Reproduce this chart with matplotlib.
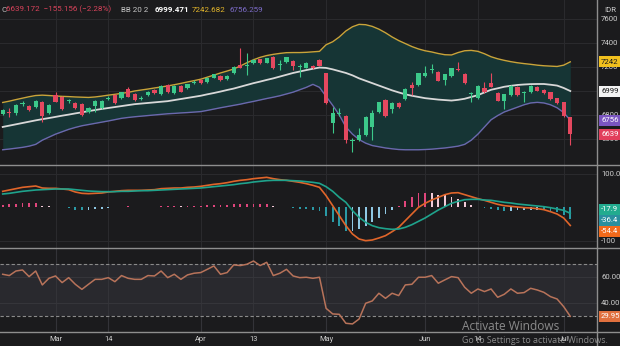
import matplotlib
matplotlib.use("Agg")
import matplotlib.pyplot as plt
import numpy as np
import pandas as pd
from matplotlib.lines import Line2D

plt.rcParams['font.family'] = ['Roboto', 'DejaVu Sans']

# ---------------- data: IDX Composite, daily, Feb-Jul 2022 ----------------
holidays = ['2022-02-28', '2022-03-03', '2022-04-15', '2022-04-29', '2022-05-02',
            '2022-05-03', '2022-05-04', '2022-05-05', '2022-05-06', '2022-05-16',
            '2022-05-26', '2022-06-01']
dates = pd.bdate_range('2022-02-16', '2022-07-04')
dates = dates[~dates.isin(pd.to_datetime(holidays))]

opens = [6808, 6822, 6819, 6893, 6875, 6864, 6911, 6814, 6967, 6953,
         6914, 6903, 6892, 6822, 6875, 6856, 6936, 6967, 6939, 7014,
         6972, 6936, 6967, 7008, 6975, 7050, 6981, 7044, 7022, 7069,
         7092, 7072, 7111, 7125, 7097, 7147, 7217, 7205, 7231, 7264,
         7236, 7286, 7214, 7239, 7250, 7200, 7194, 7208, 7258, 7147,
         6731, 6812, 6792, 6583, 6592, 6633, 6697, 6822, 6925, 6847,
         6903, 6933, 7050, 7050, 7125, 7178, 7161, 7092, 7125, 7184,
         7142, 6978, 6939, 7022, 7064, 6986, 6919, 6967, 7036, 6983,
         6989, 7036, 7008, 6989, 6939, 6906, 6781]
highs = [6850, 6856, 6890, 6917, 6882, 6922, 6918, 6888, 6989, 6958,
         6930, 6908, 6897, 6866, 6922, 6922, 6955, 6972, 6994, 7036,
         6980, 6958, 7000, 7014, 7050, 7056, 7050, 7050, 7061, 7090,
         7097, 7116, 7144, 7130, 7130, 7208, 7356, 7319, 7264, 7270,
         7278, 7292, 7258, 7286, 7256, 7222, 7242, 7214, 7264, 7153,
         6869, 6860, 6800, 6606, 6690, 6792, 6842, 6911, 6930, 6908,
         6908, 7022, 7078, 7152, 7208, 7225, 7166, 7144, 7194, 7244,
         7147, 6995, 7047, 7078, 7147, 6991, 6978, 7047, 7042, 7000,
         7047, 7042, 7014, 6995, 6945, 6911, 6786]
lows = [6800, 6781, 6800, 6875, 6835, 6858, 6744, 6808, 6905, 6845,
        6900, 6850, 6790, 6815, 6828, 6850, 6925, 6890, 6933, 6948,
        6918, 6925, 6962, 6976, 6970, 6984, 6976, 6990, 7017, 7055,
        7058, 7066, 7105, 7086, 7090, 7140, 7188, 7133, 7225, 7225,
        7230, 7183, 7172, 7233, 7175, 7114, 7188, 7183, 7205, 6890,
        6647, 6790, 6564, 6494, 6585, 6627, 6592, 6815, 6786, 6814,
        6858, 6928, 6967, 7044, 7120, 7147, 7080, 7050, 7119, 7170,
        7058, 6911, 6933, 6984, 7030, 6914, 6850, 6961, 6961, 6911,
        6984, 6997, 6975, 6928, 6890, 6781, 6550]
closes = [6842, 6816, 6883, 6899, 6842, 6917, 6792, 6883, 6911, 6850,
          6919, 6856, 6800, 6861, 6917, 6917, 6941, 6897, 6989, 6953,
          6925, 6942, 6995, 6981, 7044, 6989, 7044, 6995, 7056, 7075,
          7064, 7111, 7139, 7092, 7125, 7203, 7194, 7210, 7258, 7231,
          7272, 7189, 7220, 7280, 7208, 7206, 7236, 7190, 7211, 6897,
          6814, 6818, 6592, 6589, 6633, 6786, 6819, 6906, 6792, 6903,
          6864, 7017, 7022, 7147, 7147, 7184, 7086, 7139, 7189, 7178,
          7064, 6984, 7042, 6989, 7036, 6919, 6972, 7042, 6967, 6989,
          7042, 7003, 6981, 6933, 6897, 6794.328, 6639.172]

# Bollinger Bands (20, 2)
bb_upper = [6904, 6915, 6928, 6940, 6952, 6962, 6965, 6962, 6958, 6955,
            6953, 6950, 6948, 6946, 6950, 6957, 6965, 6972, 6980, 6988,
            7000, 7008, 7016, 7025, 7033, 7042, 7052, 7063, 7075, 7086,
            7098, 7115, 7132, 7150, 7166, 7183, 7208, 7235, 7260, 7280,
            7295, 7305, 7313, 7319, 7320, 7320, 7322, 7326, 7330, 7385,
            7410, 7450, 7500, 7535, 7555, 7552, 7538, 7515, 7485, 7450,
            7420, 7395, 7370, 7350, 7335, 7325, 7312, 7302, 7300, 7320,
            7335, 7338, 7330, 7310, 7285, 7268, 7255, 7244, 7235, 7228,
            7222, 7215, 7210, 7207, 7204, 7215, 7242.682]
bb_mid = [6700, 6711, 6722, 6733, 6744, 6755, 6765, 6774, 6784, 6794,
          6803, 6813, 6822, 6832, 6841, 6850, 6858, 6866, 6874, 6882,
          6890, 6895, 6900, 6905, 6910, 6915, 6924, 6933, 6942, 6951,
          6960, 6972, 6983, 6995, 7008, 7020, 7035, 7050, 7065, 7078,
          7092, 7105, 7120, 7135, 7150, 7162, 7174, 7185, 7195, 7192,
          7180, 7165, 7150, 7130, 7105, 7085, 7065, 7045, 7025, 7005,
          6988, 6972, 6960, 6950, 6940, 6934, 6928, 6924, 6920, 6926,
          6935, 6950, 6965, 6988, 7010, 7022, 7035, 7043, 7050, 7054,
          7057, 7058, 7058, 7052, 7045, 7025, 6999.471]
bb_lower = [6510, 6516, 6523, 6530, 6540, 6555, 6590, 6615, 6640, 6660,
            6680, 6696, 6710, 6720, 6730, 6740, 6750, 6761, 6772, 6779,
            6785, 6790, 6795, 6800, 6805, 6810, 6813, 6817, 6820, 6824,
            6828, 6838, 6849, 6860, 6870, 6880, 6890, 6902, 6913, 6925,
            6937, 6948, 6960, 6975, 6990, 7010, 7030, 7055, 7030, 6955,
            6880, 6800, 6700, 6640, 6595, 6565, 6545, 6535, 6525, 6518,
            6512, 6510, 6510, 6510, 6512, 6515, 6520, 6525, 6532, 6540,
            6555, 6590, 6640, 6700, 6760, 6795, 6825, 6845, 6865, 6885,
            6900, 6905, 6900, 6885, 6860, 6820, 6756.259]

# MACD (12, 26, 9)
macd_line = [48, 52, 56, 60, 62, 64, 58, 57, 57, 55,
             53, 46, 42, 41, 42, 43, 46, 48, 50, 51,
             51, 51, 52, 53, 56, 57, 58, 58, 60, 61,
             63, 66, 69, 71, 74, 78, 81, 83, 86, 88,
             90, 86, 83, 81, 78, 75, 71, 66, 60, 35,
             5, -25, -55, -80, -95, -100, -98, -92, -85, -73,
             -60, -40, -20, 0, 12, 22, 30, 38, 43, 44,
             38, 32, 26, 21, 15, 9, 5, 3, 1, -1,
             -2, -4, -7, -13, -20, -32, -54.38]
signal_line = [40, 42, 45, 48, 50, 52, 53, 54, 55, 55,
               55, 53, 51, 49, 48, 47, 47, 47, 48, 48,
               49, 50, 50, 51, 52, 53, 54, 55, 56, 57,
               58, 60, 62, 64, 66, 68, 71, 73, 76, 78,
               80, 81, 81, 81, 80, 79, 77, 75, 72, 62,
               48, 30, 15, -10, -30, -45, -55, -61, -64, -66,
               -65, -60, -52, -42, -32, -20, -8, 2, 12, 18,
               23, 24, 24, 22, 21, 18, 15, 13, 10, 8,
               6, 4, 2, -1, -5, -9, -17.94]

# RSI (14)
rsi = [62.3, 61.3, 64.8, 65.6, 60.5, 64.8, 54.1, 59.2, 61.0, 55.9,
       59.7, 54.6, 50.7, 54.6, 58.4, 58.4, 59.7, 56.6, 61.3, 59.2,
       58.4, 58.4, 61.3, 61.0, 64.8, 59.7, 62.3, 58.4, 61.8, 63.1,
       63.6, 66.1, 68.7, 62.3, 63.6, 69.5, 69.0, 70.0, 72.5, 69.0,
       71.5, 61.3, 63.1, 66.1, 61.0, 59.7, 60.0, 59.2, 60.0, 36.1,
       31.8, 31.5, 24.6, 24.1, 27.9, 40.0, 41.8, 47.7, 43.8, 47.7,
       45.9, 54.1, 54.6, 60.0, 60.0, 61.3, 55.4, 58.0, 60.5, 59.7,
       52.3, 47.7, 51.0, 49.0, 51.0, 44.6, 46.9, 51.0, 47.7, 48.2,
       51.5, 50.2, 48.4, 45.1, 43.3, 37.4, 29.95]

price_ticks = [6600, 6800, 7000, 7200, 7400, 7600]
macd_ticks = [100, -100]
rsi_ticks = [60, 40]
tick_dates = ['2022-03-01', '2022-03-14', '2022-04-01', '2022-04-13',
              '2022-05-09', '2022-06-02', '2022-06-14', '2022-07-01']
tick_labels = ['Mar', '14', 'Apr', '13', 'May', 'Jun', '14', 'Jul']

# ---------------- styling ----------------
W, H = 620, 346
BG = '#1b1b1d'
GRID = '#2a2a2d'
SEP = '#8e8e8e'
TXT = '#cfcfcf'
GREEN = '#3cc98a'
RED = '#e5485f'
GOLD = '#c9a43a'
MIDC = '#d8d8d8'
PURP = '#6b68ad'
BANDFILL = '#163535'
MACD_C = '#e0652a'
SIG_C = '#1fa38c'

fig = plt.figure(figsize=(W / 100, H / 100), dpi=100, facecolor=BG)


def fy(py):
    return 1 - py / H


PLOT_R = 597
ax_p = fig.add_axes([0, fy(165), PLOT_R / W, 165 / H])
ax_m = fig.add_axes([0, fy(248), PLOT_R / W, 83 / H])
ax_r = fig.add_axes([0, fy(332), PLOT_R / W, 84 / H])

n = len(closes)
x = np.arange(n)
tick_idx = dates.get_indexer(pd.to_datetime(tick_dates))

for ax in (ax_p, ax_m, ax_r):
    ax.set_facecolor(BG)
    ax.set_xlim(-0.41, 90.05)
    for s in ax.spines.values():
        s.set_visible(False)
    ax.set_xticks([])
    ax.set_yticks([])
    for t in tick_idx:
        ax.axvline(t, color=GRID, lw=0.8, zorder=0)

ax_p.set_ylim(6383, 7758)
ax_m.set_ylim(-122, 127)
ax_r.set_ylim(17.9, 82.5)

# ---------------- price panel ----------------
for v in price_ticks:
    ax_p.axhline(v, color=GRID, lw=0.8, zorder=0)

ax_p.fill_between(x, bb_lower, bb_upper, color=BANDFILL, lw=0, zorder=1)
ax_p.plot(x, bb_upper, color=GOLD, lw=1.0, zorder=2)
ax_p.plot(x, bb_mid, color=MIDC, lw=1.3, zorder=2)
ax_p.plot(x, bb_lower, color=PURP, lw=1.0, zorder=2)

o, hi, lo, c = (np.array(a, dtype=float) for a in (opens, highs, lows, closes))
cols = np.where(c >= o, GREEN, RED)
ax_p.vlines(x, lo, hi, colors=cols, lw=0.8, zorder=3)
body = np.maximum(np.abs(c - o), 8)
ax_p.bar(x, body, bottom=np.minimum(o, c), width=0.64, color=cols, lw=0, zorder=4)

# ---------------- MACD panel ----------------
for v in macd_ticks:
    ax_m.axhline(v, color=GRID, lw=0.8, zorder=0)
macd_a = np.array(macd_line, dtype=float)
sig_a = np.array(signal_line, dtype=float)
hist = macd_a - sig_a
prev = np.concatenate([[hist[0]], hist[:-1]])
hcols = np.where(hist >= 0,
                 np.where(hist >= prev, '#e0467c', '#f1cbd8'),
                 np.where(hist < prev, '#2a9aa6', '#8fc8e4'))
ax_m.bar(x, hist, width=0.28, color=hcols, lw=0, zorder=2)
ax_m.plot(x, macd_a, color=MACD_C, lw=1.2, zorder=3)
ax_m.plot(x, sig_a, color=SIG_C, lw=1.2, zorder=3)

# ---------------- RSI panel ----------------
ax_r.axhspan(30, 70, color='#29292e', lw=0, zorder=0)
for t in tick_idx:
    ax_r.axvline(t, color='#333338', lw=0.8, zorder=0.5)
for v in rsi_ticks:
    ax_r.axhline(v, color='#35353a', lw=0.8, zorder=0.6)
ax_r.axhline(70, color='#8a8a8a', lw=0.8, ls=(0, (3, 2)), zorder=1)
ax_r.axhline(30, color='#8a8a8a', lw=0.8, ls=(0, (3, 2)), zorder=1)
ax_r.plot(x, rsi, color='#b8735a', lw=1.1, zorder=3)


# ---------------- right-hand scale ----------------
def scale_label(ax, val, txt, fg, bg=None, dy=0, z=5):
    kw = dict(xy=(1.0, val), xycoords=ax.get_yaxis_transform(),
              xytext=(4, dy), textcoords='offset pixels', fontsize=5.6,
              color=fg, va='center', ha='left', annotation_clip=False, zorder=z)
    if bg is not None:
        kw['bbox'] = dict(boxstyle='square,pad=0.32', fc=bg, ec='none')
    ax.annotate(txt, **kw)


for v in price_ticks:
    scale_label(ax_p, v, f'{v}', TXT, z=4)
# the narrow scale only has room for the integer part of each price tag
scale_label(ax_p, bb_upper[-1], f'{int(bb_upper[-1])}', '#1a1a1a', '#f1c01e', z=6)
scale_label(ax_p, bb_mid[-1], f'{int(bb_mid[-1])}', '#1a1a1a', '#f4f4f4', z=6)
scale_label(ax_p, bb_lower[-1], f'{int(bb_lower[-1])}', '#ffffff', '#7a55c0', z=6)
scale_label(ax_p, closes[-1], f'{int(closes[-1])}', '#ffffff', '#e23f5c', z=6)

scale_label(ax_m, 100, '100.0', TXT)
scale_label(ax_m, -100, '-100', TXT)
scale_label(ax_m, sig_a[-1], f'{sig_a[-1]:.1f}', '#ffffff', '#22ab8f', dy=4, z=6)
scale_label(ax_m, hist[-1], f'{hist[-1]:.1f}', '#ffffff', '#2a8f9e', dy=-1, z=6)
scale_label(ax_m, macd_a[-1], f'{macd_a[-1]:.1f}', '#ffffff', '#f26a1b', dy=-6, z=6)

for v in rsi_ticks:
    scale_label(ax_r, v, f'{v:.2f}', TXT)
scale_label(ax_r, rsi[-1], f'{rsi[-1]:.2f}', '#ffffff', '#e0703e', z=6)

# date axis
for t, lab in zip(tick_idx, tick_labels):
    ax_r.text(t, -0.085, lab, transform=ax_r.get_xaxis_transform(),
              ha='center', va='center', fontsize=5.4, color=TXT, clip_on=False)

# panel separators and scale border
for py in (165, 248, 332):
    fig.add_artist(Line2D([0, 1], [fy(py)] * 2, transform=fig.transFigure,
                          color=SEP, lw=1.0))
fig.add_artist(Line2D([PLOT_R / W] * 2, [0, 1], transform=fig.transFigure,
                      color=SEP, lw=1.0))

# ---------------- legend line ----------------
chg = closes[-1] - closes[-2]
pct = chg / closes[-2] * 100
hy = fy(9.5)
fig.text(1 / W, hy, 'C', fontsize=5.8, color='#c0c0c0', va='center')
fig.text(6 / W, hy, f'{closes[-1]:.3f}  \u2212{abs(chg):.3f} (\u2212{abs(pct):.2f}%)',
         fontsize=5.8, color='#d9435b', va='center')
fig.text(121 / W, hy, 'BB 20 2', fontsize=5.8, color='#c8c8c8', va='center')
fig.text(155 / W, hy, f'{bb_mid[-1]:.3f}', fontsize=5.8, color='#ffffff',
         va='center', fontweight='bold')
fig.text(192 / W, hy, f'{bb_upper[-1]:.3f}', fontsize=5.8, color='#e2b52b', va='center')
fig.text(230 / W, hy, f'{bb_lower[-1]:.3f}', fontsize=5.8, color='#7d6cc9', va='center')
fig.text(604 / W, hy, 'IDR', fontsize=5.6, color=TXT, va='center')

# OS activation notice overlay
fig.text(462 / W, fy(327), 'Activate Windows', fontsize=8.6, color='#b0b0b0',
         alpha=0.75, va='center', family=['Open Sans', 'DejaVu Sans'])
fig.text(462 / W, fy(340.5), 'Go to Settings to activate Windows.', fontsize=6.4,
         color='#b0b0b0', alpha=0.75, va='center', family=['Open Sans', 'DejaVu Sans'])

fig.savefig('out.png', dpi=100, facecolor=BG)
